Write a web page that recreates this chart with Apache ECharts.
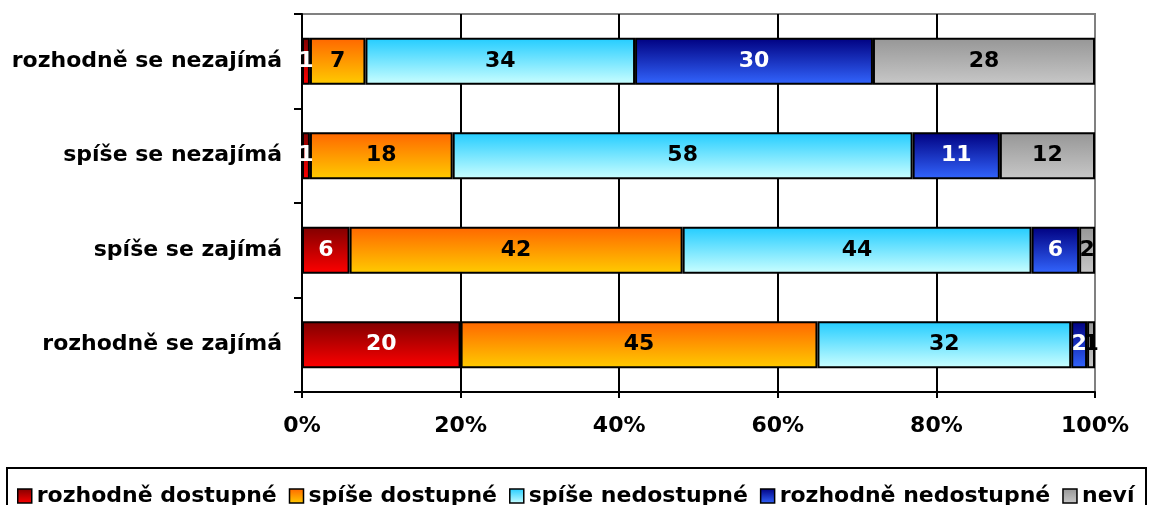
<!DOCTYPE html>
<html>
<head>
<meta charset="utf-8">
<script src="https://cdn.jsdelivr.net/npm/echarts@6/dist/echarts.min.js"></script>
<style>
html,body{margin:0;padding:0;background:#fff;}
#chart{width:1149px;height:505px;}
</style>
</head>
<body>
<div id="chart"></div>
<script>
// Categories, top to bottom
var categories = ['rozhodně se nezajímá', 'spíše se nezajímá', 'spíše se zajímá', 'rozhodně se zajímá'];
var seriesNames = ['rozhodně dostupné', 'spíše dostupné', 'spíše nedostupné', 'rozhodně nedostupné', 'neví'];
var rozhodneDostupne   = [1, 1, 6, 20];
var spiseDostupne      = [7, 18, 42, 45];
var spiseNedostupne    = [34, 58, 44, 32];
var rozhodneNedostupne = [30, 11, 6, 2];
var nevi               = [28, 12, 2, 1];
var xTicks = [0, 20, 40, 60, 80, 100];

var values = [rozhodneDostupne, spiseDostupne, spiseNedostupne, rozhodneNedostupne, nevi];
var gradients = [
  ['#800000', '#FF0000'],
  ['#FF6600', '#FFCC00'],
  ['#22CCFF', '#CCFFFF'],
  ['#000080', '#3366FF'],
  ['#969696', '#C8C8C8']
];
var labelColors = ['#fff', '#000', '#000', '#fff', '#000'];
var FONT = 'DejaVu Sans';

var chart = echarts.init(document.getElementById('chart'), null, {renderer: 'canvas'});

var series = seriesNames.map(function (name, i) {
  return {
    name: name,
    type: 'bar',
    stack: 'total',
    barWidth: 47,
    data: values[i],
    itemStyle: {
      color: new echarts.graphic.LinearGradient(0, 0, 0, 1, [
        {offset: 0, color: gradients[i][0]},
        {offset: 1, color: gradients[i][1]}
      ]),
      borderColor: '#000',
      borderWidth: 2
    },
    label: {
      show: true,
      position: 'inside',
      color: labelColors[i],
      fontFamily: FONT,
      fontWeight: 'bold',
      fontSize: 22
    },
    emphasis: {disabled: true}
  };
});

chart.setOption({
  animation: false,
  backgroundColor: '#fff',
  grid: {
    left: 302, right: 54, top: 14, bottom: 113,
    show: true, borderColor: '#808080', borderWidth: 2, backgroundColor: 'transparent'
  },
  graphic: [{
    type: 'rect',
    shape: {x: 7, y: 468, width: 1139, height: 60},
    style: {fill: 'none', stroke: '#000', lineWidth: 2},
    silent: true
  }],
  legend: {
    left: 12,
    top: 480,
    itemWidth: 14,
    itemHeight: 14,
    itemGap: 12,
    icon: 'rect',
    itemStyle: {borderColor: '#000', borderWidth: 1.5},
    textStyle: {fontFamily: FONT, fontWeight: 'bold', fontSize: 22, color: '#000'},
    data: seriesNames
  },
  xAxis: {
    type: 'value',
    min: xTicks[0],
    max: xTicks[xTicks.length - 1],
    interval: 20,
    axisLine: {show: true, lineStyle: {color: '#000', width: 2}},
    axisTick: {show: true, length: 6, lineStyle: {color: '#000', width: 2}},
    axisLabel: {
      formatter: '{value}%',
      margin: 23,
      fontFamily: FONT, fontWeight: 'bold', fontSize: 22, color: '#000'
    },
    splitLine: {show: true, lineStyle: {color: ['#000', '#000', '#000', '#000', '#000', '#808080'], width: 2}}
  },
  yAxis: {
    type: 'category',
    data: categories,
    inverse: true,
    axisLine: {show: true, lineStyle: {color: '#000', width: 2}},
    axisTick: {show: true, length: 8, lineStyle: {color: '#000', width: 2}},
    axisLabel: {
      margin: 20,
      fontFamily: FONT, fontWeight: 'bold', fontSize: 22, color: '#000'
    },
    splitLine: {show: false}
  },
  series: series
});
</script>
</body>
</html>
